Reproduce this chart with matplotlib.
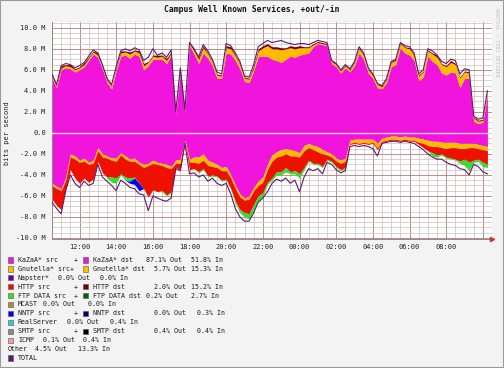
import numpy as np
import pandas as pd
import matplotlib
matplotlib.use("Agg")
import matplotlib.pyplot as plt
import matplotlib.dates as mdates
from matplotlib.ticker import MultipleLocator, FuncFormatter
from matplotlib.patches import Rectangle

plt.rcParams['font.family'] = ['DejaVu Sans Mono']

# 15 minute samples, 10:30 -> 10:15 next day (values in Mbit/s)
times = pd.date_range("2003-03-04 10:30", periods=96, freq="15min")

# outbound (src) stack, drawn above zero
out_kazaa = [5.2, 4.3, 6.0, 6.2, 6.1, 5.8, 6.0, 6.3, 6.9, 7.5, 7.2, 6.1,
             4.8, 4.2, 5.9, 7.3, 7.4, 7.1, 7.5, 7.3, 6.0, 6.4, 7.0, 7.0,
             7.0, 6.6, 7.4, 1.8, 5.8, 2.0, 8.3, 7.5, 6.6, 7.6, 7.1, 6.4,
             5.2, 5.2, 7.6, 7.5, 6.9, 6.1, 4.9, 4.8, 5.9, 7.3, 7.3, 7.3,
             7.0, 6.9, 6.7, 7.0, 7.3, 7.2, 7.4, 7.5, 7.6, 8.2, 8.5, 8.4,
             8.3, 6.6, 6.3, 5.7, 6.2, 5.8, 6.4, 7.6, 7.0, 5.7, 5.2, 4.3,
             4.2, 4.8, 6.3, 6.5, 8.1, 7.6, 7.4, 6.9, 5.0, 5.3, 7.3, 6.8,
             6.5, 5.7, 5.5, 5.8, 5.7, 4.3, 5.2, 5.2, 1.1, 0.9, 1.0, 3.6]
out_gnutella = [0.2, 0.1, 0.2, 0.2, 0.2, 0.2, 0.2, 0.2, 0.2, 0.2, 0.2, 0.2,
                0.2, 0.2, 0.2, 0.3, 0.3, 0.4, 0.3, 0.3, 0.4, 0.3, 0.3, 0.2,
                0.3, 0.3, 0.2, 0.1, 0.2, 0.1, 0.2, 0.3, 0.4, 0.5, 0.4, 0.3,
                0.3, 0.2, 0.5, 0.5, 0.4, 0.4, 0.3, 0.3, 0.3, 0.5, 0.8, 1.0,
                1.0, 1.1, 1.2, 1.0, 0.8, 0.8, 0.7, 0.6, 0.5, 0.2, 0.1, 0.1,
                0.1, 0.2, 0.2, 0.2, 0.2, 0.2, 0.3, 0.4, 0.4, 0.3, 0.3, 0.3,
                0.2, 0.3, 0.4, 0.4, 0.4, 0.5, 0.6, 0.5, 0.4, 0.5, 0.5, 0.7,
                0.7, 0.8, 0.8, 0.9, 0.8, 0.9, 0.6, 0.5, 0.3, 0.2, 0.2, 0.2]
out_http = [0.1, 0.1, 0.2, 0.1, 0.2, 0.1, 0.1, 0.2, 0.1, 0.1, 0.2, 0.1,
            0.1, 0.1, 0.1, 0.2, 0.1, 0.2, 0.1, 0.2, 0.2, 0.1, 0.1, 0.2,
            0.1, 0.2, 0.1, 0.1, 0.1, 0.1, 0.1, 0.2, 0.2, 0.2, 0.1, 0.1,
            0.1, 0.1, 0.2, 0.2, 0.1, 0.1, 0.1, 0.1, 0.2, 0.2, 0.2, 0.2,
            0.2, 0.2, 0.2, 0.1, 0.2, 0.2, 0.2, 0.1, 0.1, 0.1, 0.1, 0.1,
            0.1, 0.1, 0.1, 0.1, 0.1, 0.1, 0.1, 0.1, 0.1, 0.1, 0.1, 0.1,
            0.1, 0.1, 0.1, 0.1, 0.1, 0.1, 0.1, 0.1, 0.1, 0.1, 0.1, 0.1,
            0.2, 0.1, 0.1, 0.2, 0.1, 0.1, 0.1, 0.1, 0.1, 0.1, 0.1, 0.1]
out_total = [5.6, 4.6, 6.4, 6.6, 6.5, 6.2, 6.4, 6.7, 7.3, 7.9, 7.6, 6.5,
             5.2, 4.6, 6.3, 7.8, 8.0, 7.8, 8.1, 7.9, 6.9, 7.2, 8.0, 7.4,
             7.6, 7.2, 7.9, 2.0, 6.2, 2.2, 8.6, 8.0, 7.2, 8.4, 7.8, 7.0,
             5.8, 5.6, 8.5, 8.3, 7.6, 6.8, 5.4, 5.3, 6.5, 8.2, 8.5, 8.8,
             8.6, 8.7, 8.8, 8.6, 8.5, 8.4, 8.5, 8.5, 8.4, 8.6, 8.8, 8.7,
             8.6, 6.9, 6.6, 6.0, 6.5, 6.1, 6.8, 8.2, 7.6, 6.2, 5.6, 4.7,
             4.5, 5.2, 6.8, 7.0, 8.6, 8.3, 8.2, 7.6, 5.6, 6.0, 8.0, 7.8,
             7.4, 6.8, 6.6, 7.0, 6.9, 5.6, 6.1, 6.0, 1.6, 1.3, 1.4, 4.0]

# inbound (dst) stack, drawn below zero
in_kazaa = [4.8, 5.1, 5.3, 4.2, 2.0, 2.2, 2.6, 2.4, 2.8, 2.6, 1.4, 2.0,
            2.2, 2.4, 2.4, 1.9, 2.2, 2.5, 2.4, 2.8, 3.0, 2.9, 2.6, 2.8,
            2.9, 3.0, 3.2, 2.6, 2.5, 0.7, 2.5, 2.3, 2.3, 2.0, 2.6, 2.8,
            3.0, 3.3, 3.2, 4.0, 5.0, 5.8, 6.2, 6.0, 5.2, 4.6, 4.2, 3.0,
            2.1, 1.8, 1.6, 1.5, 1.6, 1.7, 1.9, 1.2, 1.0, 1.2, 1.3, 1.6,
            1.8, 2.0, 2.4, 2.6, 2.4, 0.7, 0.6, 0.6, 0.6, 0.6, 0.6, 1.0,
            0.5, 0.4, 0.3, 0.3, 0.4, 0.3, 0.4, 0.4, 0.5, 0.6, 0.7, 0.8,
            0.8, 0.9, 0.9, 0.9, 0.9, 1.0, 1.0, 1.0, 1.0, 1.1, 1.2, 1.3]
in_gnutella = [0.2, 0.2, 0.2, 0.3, 0.3, 0.3, 0.2, 0.3, 0.2, 0.3, 0.3, 0.3,
               0.2, 0.2, 0.3, 0.2, 0.3, 0.2, 0.3, 0.2, 0.3, 0.2, 0.3, 0.2,
               0.2, 0.3, 0.2, 0.3, 0.4, 0.1, 0.3, 0.5, 0.6, 0.6, 0.5, 0.4,
               0.3, 0.3, 0.4, 0.3, 0.3, 0.3, 0.2, 0.3, 0.3, 0.4, 0.5, 0.5,
               0.6, 0.5, 0.6, 0.5, 0.6, 0.5, 0.4, 0.5, 0.4, 0.4, 0.5, 0.4,
               0.3, 0.3, 0.3, 0.3, 0.3, 0.3, 0.3, 0.4, 0.3, 0.4, 0.3, 0.4,
               0.3, 0.3, 0.3, 0.3, 0.3, 0.3, 0.3, 0.3, 0.4, 0.4, 0.5, 0.5,
               0.5, 0.5, 0.6, 0.5, 0.5, 0.5, 0.5, 0.4, 0.4, 0.4, 0.4, 0.4]
in_http = [1.3, 1.6, 1.8, 0.8, 1.2, 1.8, 2.0, 1.6, 1.7, 1.5, 1.0, 1.5,
           1.8, 1.6, 1.6, 1.8, 1.7, 1.6, 1.5, 1.8, 2.0, 3.0, 2.5, 2.6,
           2.4, 2.6, 2.2, 0.4, 0.6, 0.1, 0.7, 0.6, 0.8, 0.8, 1.0, 0.8,
           0.8, 0.9, 0.8, 1.0, 1.2, 1.2, 1.2, 1.4, 1.3, 1.0, 1.0, 1.2,
           1.6, 1.4, 1.5, 1.3, 1.5, 1.4, 1.6, 1.6, 1.2, 1.3, 1.1, 1.2,
           0.4, 0.4, 0.5, 0.6, 0.6, 0.1, 0.1, 0.1, 0.1, 0.1, 0.1, 0.2,
           0.1, 0.1, 0.1, 0.1, 0.1, 0.1, 0.1, 0.1, 0.2, 0.4, 0.5, 0.6,
           0.8, 0.6, 0.8, 1.0, 1.1, 1.2, 1.0, 1.4, 1.2, 1.0, 1.2, 1.3]
in_ftp = [0.0, 0.0, 0.0, 0.0, 0.0, 0.0, 0.0, 0.0, 0.0, 0.0, 0.0, 0.0,
          0.1, 0.5, 0.5, 0.1, 0.3, 0.3, 0.1, 0.0, 0.0, 0.0, 0.0, 0.0,
          0.1, 0.1, 0.1, 0.0, 0.0, 0.0, 0.0, 0.0, 0.1, 0.1, 0.1, 0.1,
          0.1, 0.1, 0.1, 0.1, 0.2, 0.3, 0.4, 0.5, 0.5, 0.5, 0.4, 0.2,
          0.2, 0.3, 0.3, 0.4, 0.2, 0.3, 0.4, 0.2, 0.1, 0.1, 0.1, 0.1,
          0.1, 0.1, 0.1, 0.1, 0.1, 0.0, 0.0, 0.0, 0.0, 0.0, 0.0, 0.0,
          0.0, 0.0, 0.0, 0.0, 0.0, 0.0, 0.0, 0.0, 0.0, 0.0, 0.0, 0.3,
          0.2, 0.1, 0.1, 0.1, 0.1, 0.2, 0.6, 0.8, 0.2, 0.2, 0.4, 0.3]
in_nntp = [0.0, 0.0, 0.0, 0.0, 0.0, 0.0, 0.0, 0.0, 0.0, 0.0, 0.0, 0.0,
           0.0, 0.0, 0.0, 0.0, 0.0, 0.2, 0.6, 0.7, 0.0, 0.0, 0.0, 0.0,
           0.0, 0.0, 0.0, 0.0, 0.0, 0.0, 0.0, 0.0, 0.0, 0.0, 0.0, 0.0,
           0.0, 0.0, 0.0, 0.0, 0.0, 0.0, 0.0, 0.0, 0.0, 0.0, 0.0, 0.0,
           0.0, 0.0, 0.0, 0.0, 0.0, 0.0, 0.0, 0.0, 0.0, 0.0, 0.0, 0.0,
           0.0, 0.0, 0.0, 0.0, 0.0, 0.0, 0.0, 0.0, 0.0, 0.0, 0.0, 0.0,
           0.0, 0.0, 0.0, 0.0, 0.0, 0.0, 0.0, 0.0, 0.0, 0.0, 0.0, 0.0,
           0.0, 0.0, 0.0, 0.0, 0.0, 0.0, 0.0, 0.0, 0.0, 0.0, 0.0, 0.0]
in_total = [6.6, 7.2, 7.7, 5.5, 4.0, 4.8, 5.2, 4.6, 5.0, 4.8, 3.0, 4.2,
            4.6, 5.0, 5.5, 4.5, 4.8, 5.2, 5.3, 5.8, 5.9, 7.4, 6.0, 6.2,
            6.4, 6.5, 6.2, 3.4, 3.6, 1.0, 3.9, 3.8, 4.2, 4.0, 4.6, 4.3,
            4.8, 5.0, 4.8, 5.8, 7.2, 8.0, 8.4, 8.4, 7.6, 6.6, 6.2, 5.6,
            4.8, 4.4, 4.6, 4.3, 4.8, 4.5, 5.6, 4.2, 3.4, 3.6, 3.4, 3.9,
            2.8, 3.0, 3.5, 3.8, 3.6, 1.3, 1.2, 1.3, 1.2, 1.3, 1.5, 2.2,
            1.0, 0.9, 0.8, 0.8, 0.9, 0.8, 0.9, 1.0, 1.3, 1.6, 2.0, 2.3,
            2.5, 2.5, 2.8, 3.0, 3.1, 3.4, 3.5, 4.0, 3.0, 3.2, 3.7, 3.9]

C_KAZAA = "#f014dc"
C_GNUT = "#ffbb00"
C_NAPSTER = "#660099"
C_HTTP_SRC = "#ee1100"
C_HTTP_DST = "#7a0000"
C_FTP_SRC = "#33dd33"
C_FTP_DST = "#006600"
C_MCAST = "#999933"
C_NNTP_SRC = "#0000ee"
C_NNTP_DST = "#000066"
C_REAL = "#33cccc"
C_SMTP_SRC = "#888888"
C_SMTP_DST = "#000000"
C_ICMP = "#ff9999"
C_TOTAL = "#5e1a6e"

# legend rows: (kind, x pixel, text or colour)
legend_rows = [
    [("box", 8, C_KAZAA), ("txt", 18, "KaZaA* src"), ("txt", 74, "+"),
     ("box", 83, C_KAZAA), ("txt", 93, "KaZaA* dst"),
     ("txt", 146, "87.1% Out"), ("txt", 191, "51.8% In")],
    [("box", 8, C_GNUT), ("txt", 18, "Gnutella* src+"),
     ("box", 83, C_GNUT), ("txt", 93, "Gnutella* dst"),
     ("txt", 154, "5.7% Out"), ("txt", 191, "15.3% In")],
    [("box", 8, C_NAPSTER), ("txt", 18, "Napster*"),
     ("txt", 58, "0.0% Out"), ("txt", 100, "0.0% In")],
    [("box", 8, C_HTTP_SRC), ("txt", 18, "HTTP src"), ("txt", 74, "+"),
     ("box", 83, C_HTTP_DST), ("txt", 93, "HTTP dst"),
     ("txt", 154, "2.0% Out"), ("txt", 191, "15.2% In")],
    [("box", 8, C_FTP_SRC), ("txt", 18, "FTP DATA src"), ("txt", 74, "+"),
     ("box", 83, C_FTP_DST), ("txt", 93, "FTP DATA dst"),
     ("txt", 146, "0.2% Out"), ("txt", 191, "2.7% In")],
    [("box", 8, C_MCAST), ("txt", 18, "MCAST"),
     ("txt", 43, "0.0% Out"), ("txt", 88, "0.0% In")],
    [("box", 8, C_NNTP_SRC), ("txt", 18, "NNTP src"), ("txt", 74, "+"),
     ("box", 83, C_NNTP_DST), ("txt", 93, "NNTP dst"),
     ("txt", 154, "0.0% Out"), ("txt", 197, "0.3% In")],
    [("box", 8, C_REAL), ("txt", 18, "RealServer"),
     ("txt", 67, "0.0% Out"), ("txt", 110, "0.4% In")],
    [("box", 8, C_SMTP_SRC), ("txt", 18, "SMTP src"), ("txt", 74, "+"),
     ("box", 83, C_SMTP_DST), ("txt", 93, "SMTP dst"),
     ("txt", 154, "0.4% Out"), ("txt", 197, "0.4% In")],
    [("box", 8, C_ICMP), ("txt", 18, "ICMP"),
     ("txt", 43, "0.1% Out"), ("txt", 83, "0.4% In")],
    [("txt", 8, "Other"), ("txt", 35, "4.5% Out"), ("txt", 78, "13.3% In")],
    [("box", 8, C_TOTAL), ("txt", 18, "TOTAL")],
]

W, H = 504, 368


def fx(x):
    return x / W


def fy(y):
    return 1 - y / H


fig = plt.figure(figsize=(W / 100, H / 100), dpi=100, facecolor="#f3f3f3")
ax = fig.add_axes([fx(52), fy(238.5), 440 / W, 217 / H])
ax.set_facecolor("white")

# positive stack
o1 = np.array(out_kazaa)
o2 = o1 + np.array(out_gnutella)
o3 = o2 + np.array(out_http)
ax.fill_between(times, 0, o1, color=C_KAZAA, lw=0, zorder=2)
ax.fill_between(times, o1, o2, color=C_GNUT, lw=0, zorder=2)
ax.fill_between(times, o2, o3, color=C_HTTP_DST, lw=0, zorder=2)
ax.plot(times, out_total, color=C_TOTAL, lw=0.8, zorder=3)

# negative stack
n1 = -np.array(in_kazaa)
n2 = n1 - np.array(in_gnutella)
n3 = n2 - np.array(in_http)
n4 = n3 - np.array(in_ftp)
n5 = n4 - np.array(in_nntp)
ax.fill_between(times, 0, n1, color=C_KAZAA, lw=0, zorder=2)
ax.fill_between(times, n1, n2, color=C_GNUT, lw=0, zorder=2)
ax.fill_between(times, n2, n3, color=C_HTTP_SRC, lw=0, zorder=2)
ax.fill_between(times, n3, n4, color=C_FTP_SRC, lw=0, zorder=2)
ax.fill_between(times, n4, n5, color=C_NNTP_SRC, lw=0, zorder=2)
ax.plot(times, -np.array(in_total), color=C_TOTAL, lw=0.8, zorder=3)

ax.axhline(0, color="#ffc8f4", lw=1.0, zorder=4)

start = times[0]
ax.set_xlim(start, start + pd.Timedelta(hours=24))
ax.set_ylim(-10.05, 10.6)

ax.xaxis.set_major_locator(mdates.HourLocator(byhour=range(0, 24, 2)))
ax.xaxis.set_minor_locator(mdates.MinuteLocator(byminute=[0, 30]))
ax.xaxis.set_major_formatter(FuncFormatter(
    lambda v, p: "" if mdates.num2date(v).hour == 10
    else mdates.num2date(v).strftime("%H:%M")))
ax.yaxis.set_major_locator(MultipleLocator(2))
ax.yaxis.set_minor_locator(MultipleLocator(0.5))
ax.yaxis.set_major_formatter(FuncFormatter(
    lambda v, p: "0.0" if abs(v) < 1e-9 else f"{v:.1f} M"))

ax.set_axisbelow(True)
ax.grid(which="minor", color="#cdbcbc", lw=0.5)
ax.grid(which="major", color="#b27a7a", lw=0.6)
ax.tick_params(which="both", length=0, labelsize=5, colors="#222222")
ax.tick_params(axis="y", pad=4.5)
ax.tick_params(axis="x", pad=4)
for s in ["top", "right"]:
    ax.spines[s].set_visible(False)
for s in ["left", "bottom"]:
    ax.spines[s].set_color("#8a8a8a")
    ax.spines[s].set_linewidth(0.7)

# axis arrow at right end
ax.plot([1.0], [0.0], marker=">", color="#cc3333", markersize=3,
        transform=ax.transAxes, clip_on=False, zorder=6)

fig.text(0.5, fy(10), "Campus Well Known Services, +out/-in",
         ha="center", va="center", fontsize=5.8, weight="bold", color="#111111")
fig.text(fx(7), fy(133), "bits per second", rotation=90,
         ha="center", va="center", fontsize=5, color="#222222")
fig.text(fx(497), fy(42), "RRDTOOL / TOBI OETIKER", rotation=270,
         ha="center", va="center", fontsize=3.8, color="#c4c4c4")

for k, row in enumerate(legend_rows):
    yc = 260 + 8.9 * k
    for kind, x, val in row:
        if kind == "box":
            fig.patches.append(Rectangle((fx(x), fy(yc + 2.6)), 5.2 / W, 5.2 / H,
                                         transform=fig.transFigure,
                                         facecolor=val, edgecolor="#555555",
                                         lw=0.4))
        else:
            fig.text(fx(x), fy(yc), val, ha="left", va="center",
                     fontsize=4.8, color="#1a1a1a")

fig.patches.append(Rectangle((0, 0), 1, 1, transform=fig.transFigure,
                             fill=False, edgecolor="#9a9a9a", lw=1.5))

fig.savefig("out.png", dpi=100, facecolor=fig.get_facecolor())
